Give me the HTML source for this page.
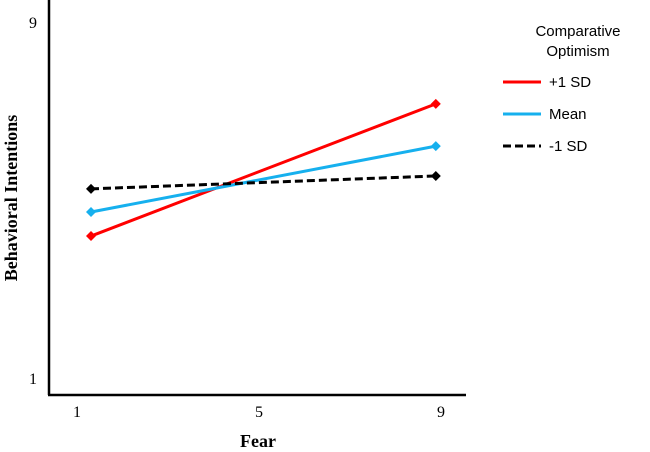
<!DOCTYPE html>
<html><head><meta charset="utf-8"><style>
body{margin:0;background:#fff;}
svg{display:block;font-family:"Liberation Serif",serif;}
</style></head><body>
<svg width="650" height="452" viewBox="0 0 650 452">
<g id="axes"></g><g id="series"></g>
<g font-family="Liberation Sans, sans-serif" font-size="15" fill="#000">
<text x="578" y="36" text-anchor="middle">Comparative</text>
<text x="578" y="56" text-anchor="middle">Optimism</text>
<line x1="503" y1="82" x2="541" y2="82" stroke="#ff0000" stroke-width="3"/>
<text x="549" y="87">+1 SD</text>
<line x1="503" y1="114" x2="541" y2="114" stroke="#16b0ee" stroke-width="3"/>
<text x="549" y="119">Mean</text>
<line x1="503" y1="146" x2="541" y2="146" stroke="#000" stroke-width="3" stroke-dasharray="8,4"/>
<text x="549" y="151">-1 SD</text>
</g>
</svg>
<script>
const categories=[1,9];
const seriesNames=["+1 SD","Mean","-1 SD"];
const plusSD=[4.19,7.16];
const meanVals=[4.73,6.21];
const minusSD=[5.25,5.54];
const xTicks=[1,5,9];
const yTicks=[1,9];
const NS="http://www.w3.org/2000/svg";
function xs(v){return 91+(v-1)*43.1;}
function xl(v){return 77+(v-1)*45.5;}
function ys(v){return 378-(v-1)*44.5;}
function mk(t,a,p){const e=document.createElementNS(NS,t);for(const k in a)e.setAttribute(k,a[k]);p.appendChild(e);return e;}
const ax=document.getElementById('axes');
let l=mk('line',{x1:49,y1:0,x2:49,y2:395,stroke:'#000','stroke-width':2.5},ax);


l=mk('line',{x1:48,y1:395,x2:466,y2:395,stroke:'#000','stroke-width':2.5},ax);


xTicks.forEach(v=>{const t=mk('text',{x:xl(v),y:417,'text-anchor':'middle','font-size':16},ax);t.textContent=v;

});
yTicks.forEach(v=>{const t=mk('text',{x:37,y:ys(v)+6,'text-anchor':'end','font-size':16},ax);t.textContent=v;

});
let t=mk('text',{x:258,y:447,'text-anchor':'middle','font-size':18,'font-weight':'bold'},ax);t.textContent='Fear';


t=mk('text',{x:0,y:0,'text-anchor':'middle','font-size':18,'font-weight':'bold',transform:'translate(17,198) rotate(-90)'},ax);t.textContent='Behavioral Intentions';


const sg=document.getElementById('series');
[[plusSD,'#ff0000',null,'series-plus1sd'],[meanVals,'#16b0ee',null,'series-mean'],[minusSD,'#000','8,4','series-minus1sd']].forEach(([vals,c,d,n])=>{
const g=mk('g',{},sg);


const pts=vals.map((v,i)=>xs(categories[i])+','+ys(v)).join(' ');
const pl=mk('polyline',{points:pts,fill:'none',stroke:c,'stroke-width':3},g);
if(d)pl.setAttribute('stroke-dasharray',d);


vals.forEach((v,i)=>{const x=xs(categories[i]),y=ys(v);
const m=mk('polygon',{points:`${x},${y-5} ${x+5},${y} ${x},${y+5} ${x-5},${y}`,fill:c},g);

});
});
</script>
</body></html>
